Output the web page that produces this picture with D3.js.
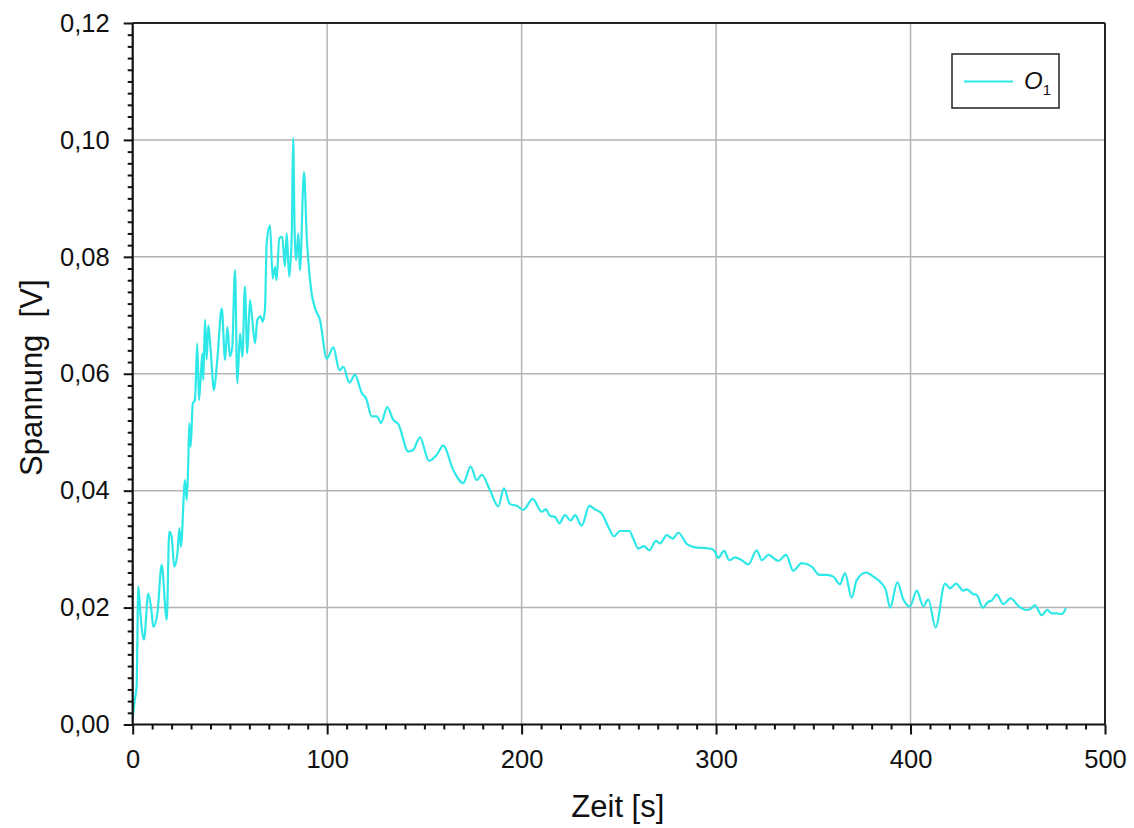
<!DOCTYPE html>
<html><head><meta charset="utf-8">
<script src="https://cdn.jsdelivr.net/npm/d3@7"></script>
<style>
html,body{margin:0;padding:0;background:#fff;}
svg{display:block;font-family:"Liberation Sans",Arial,sans-serif;}
</style></head>
<body>
<svg id="chart" width="1134" height="828"></svg>
<script>
const timeS = [0,0.3,1.2,2,2.9,4.1,5.8,8,9.8,10.6,12.7,14.9,17.5,18.8,20,21.4,23,24,24.8,26.9,27.8,28.6,29.1,29.8,30.9,32,33.2,34.1,35,35.8,36.3,37.2,38,38.9,40.1,41.8,43.5,45.8,47.5,48.7,50,51.2,52.6,53.8,55.2,56.4,57.7,58.9,60.3,61.5,62.9,64.1,65.8,66.8,68,68.9,70.6,72,73.2,74,75.4,76.9,78.3,79.2,80.5,81.8,82.5,83.3,84,85.2,86,88.1,89.5,90.3,92,94,96.3,99.8,103.2,106.3,108.3,111.4,114.3,117.8,120,122.9,125.5,127.7,130.9,134,136.6,141.7,144.3,147.7,152.4,156.3,159.7,164.9,170,173.8,176.9,179.5,183.7,188,190.9,194,197.5,200.9,205.7,210.3,212.5,214.6,217.2,219.4,222.3,225.2,227.5,230.9,234.8,237.7,241.2,244.6,247.5,250.6,255.4,257.4,260,262.9,265.7,269.1,271.2,274.6,277.7,280.6,284.9,289.2,293.4,296.9,299.4,301.1,304.1,306.8,309.7,313.2,316.6,320.9,323.5,326.9,332,336,339.7,344,349.2,353.1,356.9,360.3,363.7,366.3,369.7,372.3,377.1,380.9,385.2,387.3,389.5,393.2,396.3,399.7,403.2,406.6,409.1,412.9,417.7,420.3,423.4,427.1,428.9,432.3,434,437.1,440,441.7,444.3,447.7,451.5,455.4,459.7,461.4,464,467.4,470.3,472.6,475.2,477.7,479.9];
const voltageV = [0.001,0.002,0.0045,0.0065,0.0236,0.0184,0.0145,0.0224,0.019,0.0167,0.019,0.0273,0.0179,0.033,0.0321,0.027,0.0293,0.0336,0.0304,0.0418,0.0384,0.0452,0.0515,0.0475,0.0549,0.0555,0.0652,0.0555,0.0595,0.0635,0.0589,0.0692,0.0624,0.0683,0.064,0.0572,0.0624,0.0712,0.0624,0.068,0.063,0.0646,0.0777,0.0584,0.0669,0.0629,0.0749,0.0635,0.0726,0.0692,0.0652,0.0692,0.0698,0.0689,0.0709,0.0823,0.0854,0.0763,0.0783,0.076,0.0832,0.0834,0.0783,0.084,0.0766,0.084,0.1003,0.084,0.0794,0.084,0.0777,0.0945,0.0834,0.0794,0.0738,0.071,0.0692,0.0626,0.0645,0.0606,0.0612,0.0585,0.0598,0.0567,0.0558,0.0527,0.0527,0.0516,0.0543,0.0521,0.0514,0.0467,0.047,0.0491,0.0451,0.0461,0.0477,0.0435,0.0413,0.0441,0.0418,0.0427,0.0401,0.0373,0.0404,0.0377,0.0374,0.0367,0.0386,0.0364,0.0368,0.0357,0.0355,0.0344,0.0358,0.0349,0.0358,0.034,0.0374,0.0368,0.0361,0.0338,0.0322,0.0331,0.0331,0.0318,0.0301,0.0305,0.0298,0.0314,0.031,0.0324,0.0318,0.0328,0.0309,0.0303,0.0302,0.0301,0.0296,0.0285,0.0297,0.0281,0.0286,0.0281,0.0274,0.0298,0.0281,0.029,0.028,0.029,0.0263,0.0276,0.027,0.0256,0.0256,0.0253,0.024,0.0259,0.0217,0.0247,0.026,0.0253,0.0241,0.023,0.02,0.0243,0.0214,0.0202,0.0229,0.0202,0.0214,0.0166,0.0241,0.0233,0.0241,0.0229,0.0231,0.0223,0.0222,0.02,0.021,0.0212,0.0222,0.0206,0.0216,0.0203,0.0196,0.0197,0.0204,0.0187,0.0196,0.019,0.019,0.0189,0.0199];
const xTicks = [0,100,200,300,400,500];
const yTicks = [0,0.02,0.04,0.06,0.08,0.10,0.12];
const seriesName = "O";
const seriesSub = "1";
const xTitle = "Zeit [s]";
const yTitle = "Spannung  [V]";

const svg = d3.select("#chart");
const m = {left:132.7, right:1105, top:23, bottom:724.5};
const x = d3.scaleLinear().domain([0,500]).range([m.left,m.right]);
const y = d3.scaleLinear().domain([0,0.12]).range([m.bottom,m.top]);
const gridColor = "#b3b3b3";
const lineColor = "#2ee8e8";

// grid
svg.append("g").selectAll("line").data(xTicks.slice(1,-1)).join("line")
  .attr("x1",d=>x(d)).attr("x2",d=>x(d)).attr("y1",m.top).attr("y2",m.bottom)
  .attr("stroke",gridColor).attr("stroke-width",1.5);
svg.append("g").selectAll("line").data(yTicks.slice(1,-1)).join("line")
  .attr("y1",d=>y(d)).attr("y2",d=>y(d)).attr("x1",m.left).attr("x2",m.right)
  .attr("stroke",gridColor).attr("stroke-width",1.5);

// frame top/right
svg.append("line").attr("x1",m.left).attr("x2",m.right).attr("y1",m.top).attr("y2",m.top).attr("stroke","#222").attr("stroke-width",2);
svg.append("line").attr("x1",m.right).attr("x2",m.right).attr("y1",m.top).attr("y2",m.bottom).attr("stroke","#222").attr("stroke-width",2);

// data line
const pts = timeS.map((t,i)=>[t,voltageV[i]]);
svg.append("path").datum(pts)
  .attr("fill","none").attr("stroke",lineColor).attr("stroke-width",2.2)
  .attr("stroke-linejoin","round")
  .attr("d",d3.line().x(d=>x(d[0])).y(d=>y(d[1])).curve(d3.curveMonotoneX));

// axes
const fmtY = d=>d3.format(".2f")(d).replace(".",",");
const xMinor = d3.range(0,501,10).filter(v=>v%100!==0);
const yMinor = d3.range(0,61).map(i=>i*0.002).filter((v,i)=>i%10!==0);

const xAx = svg.append("g").attr("transform",`translate(0,${m.bottom})`)
  .call(d3.axisBottom(x).tickValues(xTicks).tickSize(10).tickPadding(15).tickFormat(d3.format("d")));
const xAxMin = svg.append("g").attr("transform",`translate(0,${m.bottom})`)
  .call(d3.axisBottom(x).tickValues(xMinor).tickSize(5).tickFormat(""));
const yAx = svg.append("g").attr("transform",`translate(${m.left},0)`)
  .call(d3.axisLeft(y).tickValues(yTicks).tickSize(9).tickPadding(14).tickFormat(fmtY));
const yAxMin = svg.append("g").attr("transform",`translate(${m.left},0)`)
  .call(d3.axisLeft(y).tickValues(yMinor).tickSize(5).tickFormat(""));
[xAx,xAxMin,yAx,yAxMin].forEach(g=>{
  g.select(".domain").attr("stroke","#111").attr("stroke-width",2.2);
  g.selectAll(".tick line").attr("stroke","#111").attr("stroke-width",2);
  g.selectAll(".tick text").attr("fill","#111").style("font-size","25.5px").style("font-family","'Liberation Sans',Arial,sans-serif");
});
xAxMin.select(".domain").remove(); yAxMin.select(".domain").remove();
xAx.select(".domain").attr("d",`M${m.left},0H${m.right}`);
yAx.select(".domain").attr("d",`M0,${m.bottom}V${m.top}`);

// titles
svg.append("text").attr("x",(m.left+m.right)/2 - 1).attr("y",817).attr("text-anchor","middle")
  .style("font-size","31px").attr("fill","#111").text(xTitle);
svg.append("text").attr("transform",`translate(42,${(m.top+m.bottom)/2 + 4}) rotate(-90)`)
  .attr("text-anchor","middle").style("font-size","31px").attr("fill","#111").style("white-space","pre").text(yTitle);

// legend
const lg = svg.append("g");
lg.append("rect").attr("x",952).attr("y",54).attr("width",107).attr("height",54)
  .attr("fill","#fff").attr("stroke","#222").attr("stroke-width",1.5);
lg.append("line").attr("x1",964).attr("x2",1013).attr("y1",81.5).attr("y2",81.5)
  .attr("stroke",lineColor).attr("stroke-width",2);
const lt = lg.append("text").attr("x",1024).attr("y",89).style("font-size","24px").style("font-style","italic").attr("fill","#111");
lt.append("tspan").text(seriesName);
lt.append("tspan").attr("dy",6).style("font-size","15px").style("font-style","normal").text(seriesSub);
</script>
</body></html>
